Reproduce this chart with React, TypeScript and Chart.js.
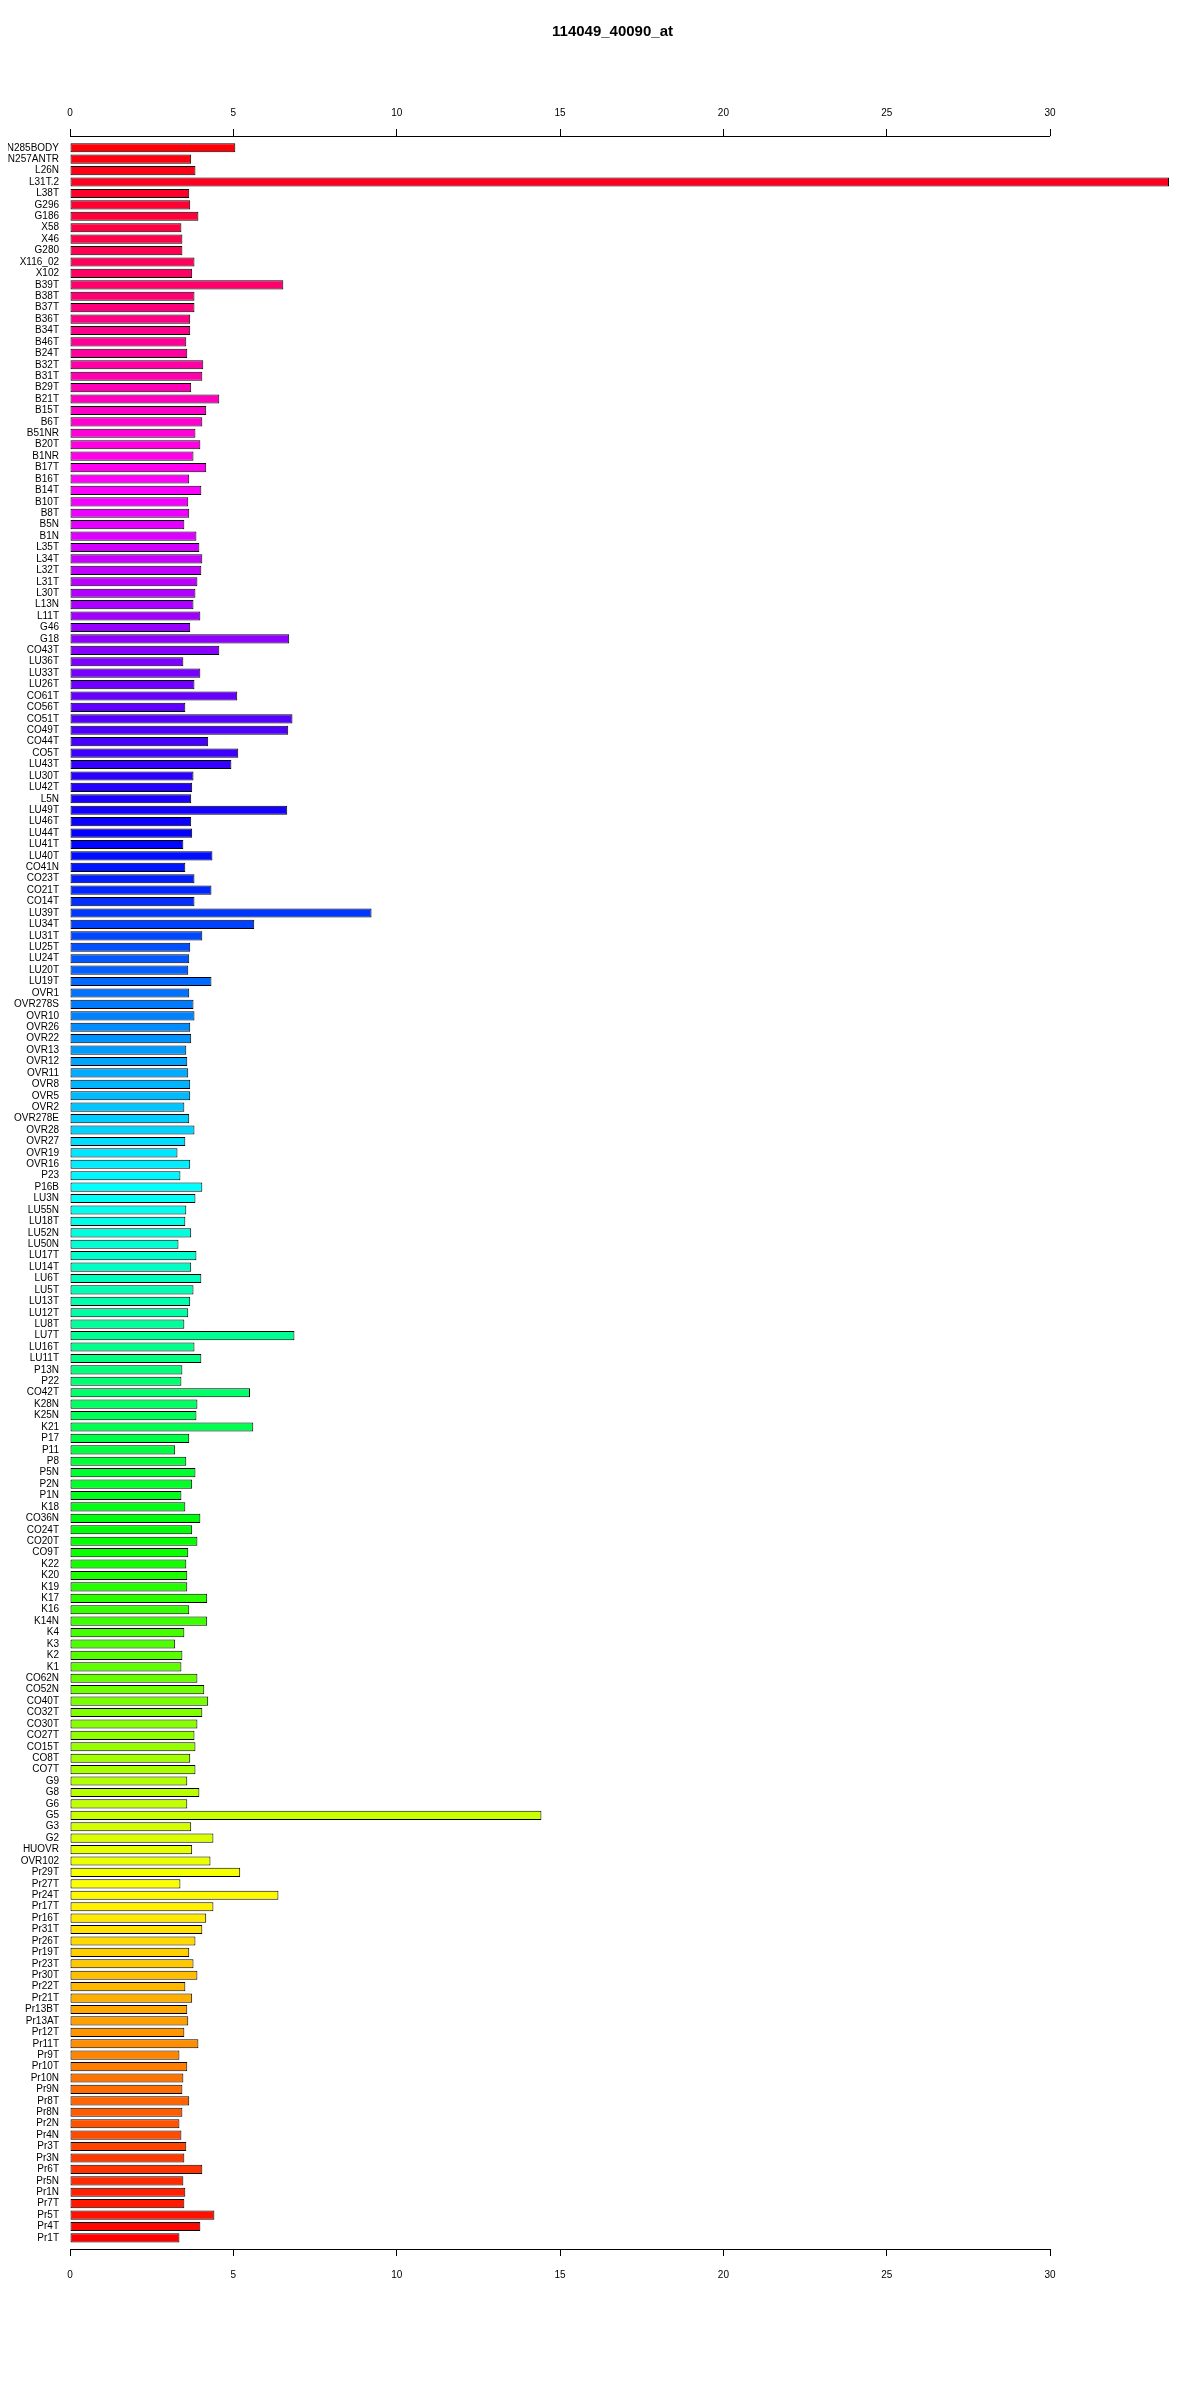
import React, { useEffect, useRef } from "react";
import { Chart, registerables } from "chart.js";

Chart.register(...registerables);

const TITLE = "114049_40090_at";

const CATEGORIES = [
  "N285BODY", "N257ANTR", "L26N", "L31T.2", "L38T", "G296", "G186", "X58", "X46", "G280",
  "X116_02", "X102", "B39T", "B38T", "B37T", "B36T", "B34T", "B46T", "B24T", "B32T",
  "B31T", "B29T", "B21T", "B15T", "B6T", "B51NR", "B20T", "B1NR", "B17T", "B16T",
  "B14T", "B10T", "B8T", "B5N", "B1N", "L35T", "L34T", "L32T", "L31T", "L30T",
  "L13N", "L11T", "G46", "G18", "CO43T", "LU36T", "LU33T", "LU26T", "CO61T", "CO56T",
  "CO51T", "CO49T", "CO44T", "CO5T", "LU43T", "LU30T", "LU42T", "L5N", "LU49T", "LU46T",
  "LU44T", "LU41T", "LU40T", "CO41N", "CO23T", "CO21T", "CO14T", "LU39T", "LU34T", "LU31T",
  "LU25T", "LU24T", "LU20T", "LU19T", "OVR1", "OVR278S", "OVR10", "OVR26", "OVR22", "OVR13",
  "OVR12", "OVR11", "OVR8", "OVR5", "OVR2", "OVR278E", "OVR28", "OVR27", "OVR19", "OVR16",
  "P23", "P16B", "LU3N", "LU55N", "LU18T", "LU52N", "LU50N", "LU17T", "LU14T", "LU6T",
  "LU5T", "LU13T", "LU12T", "LU8T", "LU7T", "LU16T", "LU11T", "P13N", "P22", "CO42T",
  "K28N", "K25N", "K21", "P17", "P11", "P8", "P5N", "P2N", "P1N", "K18",
  "CO36N", "CO24T", "CO20T", "CO9T", "K22", "K20", "K19", "K17", "K16", "K14N",
  "K4", "K3", "K2", "K1", "CO62N", "CO52N", "CO40T", "CO32T", "CO30T", "CO27T",
  "CO15T", "CO8T", "CO7T", "G9", "G8", "G6", "G5", "G3", "G2", "HUOVR",
  "OVR102", "Pr29T", "Pr27T", "Pr24T", "Pr17T", "Pr16T", "Pr31T", "Pr26T", "Pr19T", "Pr23T",
  "Pr30T", "Pr22T", "Pr21T", "Pr13BT", "Pr13AT", "Pr12T", "Pr11T", "Pr9T", "Pr10T", "Pr10N",
  "Pr9N", "Pr8T", "Pr8N", "Pr2N", "Pr4N", "Pr3T", "Pr3N", "Pr6T", "Pr5N", "Pr1N",
  "Pr7T", "Pr5T", "Pr4T", "Pr1T",
];

const VALUES = [
  5.06, 3.71, 3.84, 33.64, 3.65, 3.68, 3.93, 3.41, 3.44, 3.44,
  3.81, 3.74, 6.53, 3.81, 3.81, 3.68, 3.68, 3.56, 3.59, 4.08,
  4.05, 3.71, 4.57, 4.17, 4.05, 3.84, 3.99, 3.78, 4.17, 3.65,
  4.02, 3.62, 3.65, 3.50, 3.87, 3.96, 4.05, 4.02, 3.90, 3.84,
  3.78, 3.99, 3.68, 6.71, 4.57, 3.47, 3.99, 3.81, 5.12, 3.53,
  6.81, 6.68, 4.23, 5.15, 4.94, 3.78, 3.74, 3.71, 6.65, 3.71,
  3.74, 3.47, 4.36, 3.53, 3.81, 4.33, 3.81, 9.23, 5.64, 4.05,
  3.68, 3.65, 3.62, 4.33, 3.65, 3.78, 3.81, 3.68, 3.71, 3.56,
  3.59, 3.62, 3.68, 3.68, 3.50, 3.65, 3.81, 3.53, 3.29, 3.68,
  3.38, 4.05, 3.84, 3.56, 3.53, 3.71, 3.32, 3.87, 3.71, 4.02,
  3.78, 3.68, 3.62, 3.50, 6.87, 3.81, 4.02, 3.44, 3.41, 5.51,
  3.90, 3.87, 5.61, 3.65, 3.22, 3.56, 3.84, 3.74, 3.41, 3.53,
  3.99, 3.74, 3.90, 3.62, 3.56, 3.59, 3.59, 4.20, 3.65, 4.20,
  3.50, 3.22, 3.44, 3.41, 3.90, 4.11, 4.23, 4.05, 3.90, 3.81,
  3.84, 3.68, 3.84, 3.59, 3.96, 3.59, 14.43, 3.71, 4.39, 3.74,
  4.30, 5.21, 3.38, 6.38, 4.39, 4.17, 4.05, 3.84, 3.65, 3.78,
  3.90, 3.53, 3.74, 3.59, 3.62, 3.50, 3.93, 3.35, 3.59, 3.47,
  3.44, 3.65, 3.44, 3.35, 3.41, 3.56, 3.50, 4.05, 3.47, 3.53,
  3.50, 4.42, 3.99, 3.35,
];

const X_TICKS = [0, 5, 10, 15, 20, 25, 30];

const FONT = "'Liberation Sans', Arial, Helvetica, sans-serif";

function hsvColor(h: number): string {
  const i = Math.floor(h * 6);
  const f = h * 6 - i;
  const q = 1 - f;
  let r = 0, g = 0, b = 0;
  switch (((i % 6) + 6) % 6) {
    case 0: r = 1; g = f; b = 0; break;
    case 1: r = q; g = 1; b = 0; break;
    case 2: r = 0; g = 1; b = f; break;
    case 3: r = 0; g = q; b = 1; break;
    case 4: r = f; g = 0; b = 1; break;
    default: r = 1; g = 0; b = q; break;
  }
  return `rgb(${Math.round(r * 255)},${Math.round(g * 255)},${Math.round(b * 255)})`;
}

export default function App() {
  const ref = useRef<HTMLCanvasElement | null>(null);

  useEffect(() => {
    if (!ref.current) return;
    const n = VALUES.length;
    const colors = VALUES.map((_, j) => hsvColor((n - 1 - j) / n));
    const xMax = Math.max(...VALUES);

    const axisLinePlugin = {
      id: "axisLines",
      afterDraw(chart: any) {
        const ctx = chart.ctx;
        const sx = chart.scales.x;
        const x0 = sx.getPixelForValue(X_TICKS[0]);
        const x1 = sx.getPixelForValue(X_TICKS[X_TICKS.length - 1]);
        const { top, bottom } = chart.chartArea;
        ctx.save();
        ctx.strokeStyle = "#000";
        ctx.lineWidth = 1;
        ctx.beginPath();
        ctx.moveTo(x0, Math.round(top) + 0.5);
        ctx.lineTo(x1, Math.round(top) + 0.5);
        ctx.moveTo(x0, Math.round(bottom) + 0.5);
        ctx.lineTo(x1, Math.round(bottom) + 0.5);
        ctx.stroke();
        ctx.restore();
      },
    };

    const titlePlugin = {
      id: "rTitle",
      afterDraw(chart: any) {
        const ctx = chart.ctx;
        const { left, right } = chart.chartArea;
        ctx.save();
        ctx.fillStyle = "#000";
        ctx.font = `bold 15px ${FONT}`;
        ctx.textAlign = "center";
        ctx.textBaseline = "middle";
        ctx.fillText(TITLE, (left + right) / 2 - 7, 24);
        ctx.restore();
      },
    };

    const xTickCfg = (padding: number) => ({
      autoSkip: false,
      maxRotation: 0,
      padding,
      color: "#000",
      font: { family: FONT, size: 10 },
    });

    const chart = new Chart(ref.current, {
      type: "bar",
      data: {
        datasets: [
          {
            data: VALUES.map((v, i) => ({ x: v, y: i })),
            backgroundColor: colors,
            borderColor: "#000",
            borderWidth: 1,
            borderSkipped: false,
            barPercentage: 0.8,
            categoryPercentage: 1,
            xAxisID: "x",
            yAxisID: "y",
          } as any,
        ],
      },
      options: {
        indexAxis: "y",
        responsive: false,
        animation: false,
        layout: { padding: { top: 100, bottom: 99, left: 0, right: 23 } },
        plugins: {
          legend: { display: false },
          tooltip: { enabled: false },
          title: { display: false },
        },
        scales: {
          y: {
            type: "linear",
            reverse: true,
            offset: false,
            min: -1.03,
            max: 183.97,
            position: "left",
            grid: { display: false, offset: false },
            border: { display: false },
            afterBuildTicks: (s: any) => {
              s.ticks = CATEGORIES.map((_, i) => ({ value: i }));
            },
            afterFit: (s: any) => {
              s.width = 62;
            },
            ticks: {
              autoSkip: false,
              padding: 3,
              color: "#000",
              font: { family: FONT, size: 10 },
              callback: (v: any) => CATEGORIES[v] ?? "",
            },
          },
          x: {
            type: "linear",
            position: "bottom",
            min: 0,
            max: xMax,
            grid: { drawOnChartArea: false, drawTicks: true, tickLength: 7, color: "#000" },
            border: { display: false },
            afterBuildTicks: (s: any) => {
              s.ticks = X_TICKS.map((v) => ({ value: v }));
            },
            afterFit: (s: any) => {
              s.height = 40;
            },
            ticks: xTickCfg(13),
          },
          xTop: {
            type: "linear",
            axis: "x",
            position: "top",
            min: 0,
            max: xMax,
            grid: { drawOnChartArea: false, drawTicks: true, tickLength: 7, color: "#000" },
            border: { display: false },
            afterBuildTicks: (s: any) => {
              s.ticks = X_TICKS.map((v) => ({ value: v }));
            },
            afterFit: (s: any) => {
              s.height = 28;
            },
            ticks: xTickCfg(10),
          },
        } as any,
      },
      plugins: [axisLinePlugin, titlePlugin],
    });

    return () => chart.destroy();
  }, []);

  return (
    <div style={{ width: 1184, height: 2380 }}>
      <canvas ref={ref} width={1184} height={2380} style={{ display: "block" }} />
    </div>
  );
}
